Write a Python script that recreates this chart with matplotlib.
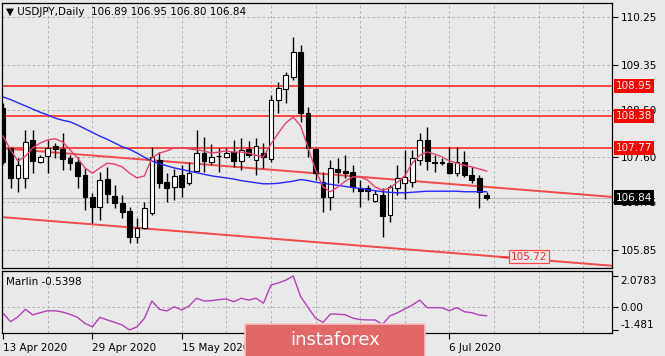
import numpy as np
import pandas as pd
import matplotlib
matplotlib.use("Agg")
import matplotlib.pyplot as plt
from matplotlib.patches import FancyBboxPatch
from matplotlib.transforms import blended_transform_factory

# USDJPY daily candles, one per weekday from 13 Apr 2020
opens = [108.53, 107.78, 107.21, 107.21, 107.93, 107.51, 107.62, 107.81, 107.76, 107.59,
         107.51, 107.27, 106.85, 106.66, 107.19, 106.87, 106.74, 106.59, 106.10, 106.27,
         106.55, 107.55, 107.13, 107.04, 107.27, 107.11, 107.34, 107.68, 107.51, 107.62,
         107.61, 107.70, 107.53, 107.76, 107.55, 107.68, 107.57, 108.68, 108.89, 109.12,
         109.59, 108.44, 107.76, 107.13, 106.85, 107.38, 107.34, 107.32, 107.02, 107.02,
         106.78, 106.89, 106.51, 107.02, 107.12, 107.13, 107.55, 107.93, 107.51, 107.51,
         107.49, 107.30, 107.51, 107.27, 107.21, 106.89]
highs = [108.62, 107.80, 107.59, 108.12, 108.12, 107.64, 107.93, 107.87, 108.06, 107.64,
         107.61, 107.40, 106.93, 107.32, 107.42, 107.08, 106.89, 106.66, 106.45, 106.76,
         107.79, 107.70, 107.30, 107.38, 107.46, 107.51, 108.12, 107.98, 107.85, 107.78,
         107.78, 107.93, 107.96, 107.91, 107.96, 107.87, 108.78, 109.02, 109.21, 109.87,
         109.72, 108.55, 107.78, 107.32, 107.55, 107.59, 107.64, 107.46, 107.17, 107.08,
         106.98, 107.02, 107.08, 107.46, 107.74, 107.74, 108.06, 108.17, 107.64, 107.59,
         107.79, 107.79, 107.72, 107.42, 107.27, 106.95]
lows = [107.48, 107.02, 106.95, 107.02, 107.30, 107.49, 107.30, 107.59, 107.36, 107.36,
        107.02, 106.61, 106.36, 106.42, 106.74, 106.64, 106.45, 105.98, 105.98, 106.25,
        106.51, 107.02, 106.76, 106.79, 106.85, 107.08, 107.32, 107.32, 107.46, 107.32,
        107.59, 107.42, 107.36, 107.61, 107.27, 107.40, 107.51, 108.44, 108.63, 109.06,
        108.27, 107.61, 107.17, 106.57, 106.61, 107.11, 107.21, 106.95, 106.66, 106.79,
        106.76, 106.10, 106.38, 106.89, 106.81, 107.04, 107.46, 107.36, 107.32, 107.46,
        107.28, 107.25, 107.23, 107.11, 106.64, 106.80]
closes = [107.51, 107.21, 107.46, 107.89, 107.53, 107.61, 107.78, 107.76, 107.57, 107.49,
          107.25, 106.85, 106.66, 107.17, 106.91, 106.74, 106.57, 106.10, 106.27, 106.64,
          107.61, 107.11, 107.02, 107.25, 107.04, 107.30, 107.68, 107.53, 107.61, 107.63,
          107.68, 107.53, 107.74, 107.64, 107.81, 107.61, 108.68, 108.91, 109.15, 109.59,
          108.44, 107.78, 107.30, 106.85, 107.40, 107.32, 107.30, 107.04, 106.96, 106.97,
          106.91, 106.49, 107.04, 107.21, 107.23, 107.59, 107.93, 107.53, 107.49, 107.50,
          107.30, 107.51, 107.27, 107.17, 106.95, 106.84]

# moving averages (red = fast, blue = slow)
ma_fast = [108.00, 107.74, 107.53, 107.62, 107.78, 107.87, 107.93, 107.95, 107.89, 107.74,
           107.59, 107.40, 107.30, 107.40, 107.49, 107.47, 107.42, 107.30, 107.21, 107.25,
           107.59, 107.68, 107.72, 107.78, 107.78, 107.76, 107.74, 107.72, 107.68, 107.70,
           107.72, 107.70, 107.70, 107.68, 107.64, 107.61, 107.85, 108.06, 108.25, 108.36,
           108.19, 107.78, 107.36, 107.04, 106.95, 107.04, 107.15, 107.23, 107.23, 107.17,
           107.04, 106.98, 107.02, 107.13, 107.25, 107.49, 107.64, 107.70, 107.66, 107.61,
           107.53, 107.49, 107.45, 107.42, 107.38, 107.34]
ma_slow = [108.74, 108.69, 108.63, 108.57, 108.51, 108.45, 108.40, 108.34, 108.30, 108.27,
           108.21, 108.14, 108.07, 108.00, 107.94, 107.87, 107.80, 107.75, 107.68, 107.60,
           107.53, 107.48, 107.44, 107.40, 107.37, 107.34, 107.31, 107.28, 107.25, 107.23,
           107.21, 107.19, 107.16, 107.14, 107.12, 107.10, 107.10, 107.11, 107.13, 107.15,
           107.18, 107.16, 107.13, 107.11, 107.09, 107.07, 107.05, 107.03, 107.01, 106.99,
           106.97, 106.95, 106.94, 106.93, 106.93, 106.94, 106.95, 106.96, 106.96, 106.96,
           106.96, 106.96, 106.95, 106.95, 106.95, 106.95]

# Marlin oscillator
marlin = [-0.38, -0.94, -0.61, -0.12, -0.49, -0.34, -0.21, -0.22, -0.30, -0.45,
          -0.65, -1.05, -1.27, -0.65, -0.82, -0.98, -1.15, -1.48, -1.27, -0.71,
          0.43, -0.12, -0.23, 0.05, -0.16, 0.10, 0.61, 0.43, 0.45, 0.52,
          0.56, 0.38, 0.61, 0.49, 0.61, 0.28, 1.48, 1.62, 1.80, 2.08,
          0.71, 0.00, -0.71, -0.98, -0.43, -0.44, -0.48, -0.70, -0.80, -0.82,
          -0.82, -1.11, -0.55, -0.35, -0.10, 0.16, 0.49, -0.01, -0.01, -0.02,
          -0.21, -0.01, -0.28, -0.34, -0.50, -0.54]
marlin_last = -0.5398
marlin_ticks = [2.0783, 0.0, -1.481]
marlin_labels = ["2.0783", "0.00", "-1.481"]

# levels and channel
levels = [108.95, 108.38, 107.77]
channel_bars = [-1, 83]
channel_upper = [107.78, 106.84]
channel_lower = [106.48, 105.54]
target = 105.72
price_ticks = [110.25, 109.35, 108.50, 107.60, 106.75, 105.85]

dates = pd.bdate_range("2020-04-13", periods=len(opens))
date_idx = [0, 12, 24, 36, 48, 60]
hidden_dates = [36, 48]  # covered by the watermark in the original

BG = "#e9e9e9"
GRID = "#a6a6a6"
FS = 7.5
W, H = 665, 356


def box(l, t, r, b):
    return [l / W, 1 - b / H, (r - l) / W, (b - t) / H]


fig = plt.figure(figsize=(W / 100, H / 100), dpi=100, facecolor=BG)
ax = fig.add_axes(box(2, 3, 612, 268), facecolor=BG)
axm = fig.add_axes(box(2, 271, 612, 333), facecolor=BG, sharex=ax)

x = np.arange(len(opens))
o, hi, lo, c = (np.array(v) for v in (opens, highs, lows, closes))

# grid
for a in (ax, axm):
    for gx in range(6, 84, 6):
        a.axvline(gx, color=GRID, lw=0.6, dashes=(3, 3), zorder=0)
    for s in a.spines.values():
        s.set_color("black")
        s.set_linewidth(0.9)
for p in price_ticks:
    ax.axhline(p, color=GRID, lw=0.6, dashes=(3, 3), zorder=0)
axm.axhline(0, color=GRID, lw=0.6, dashes=(3, 3), zorder=0)

# levels, channel, bid line
for lv in levels:
    ax.axhline(lv, color="#ff1a1a", lw=1.1, zorder=2)
ax.plot(channel_bars, channel_upper, color="#f04a4a", lw=1.4, zorder=2)
ax.plot(channel_bars, channel_lower, color="#f04a4a", lw=1.4, zorder=2)
ax.axhline(closes[-1], color="#bcbcbc", lw=0.8, zorder=1)

# candles
ax.vlines(x, lo, hi, color="black", lw=1, zorder=3)
body_h = np.maximum(np.abs(c - o), 0.012)
ax.bar(x, body_h, bottom=np.minimum(o, c), width=0.64,
       color=np.where(c >= o, "white", "black"), edgecolor="black", lw=0.8, zorder=4)

# moving averages
ax.plot(x, ma_slow, color="#2424ff", lw=1, zorder=5)
ax.plot(x, ma_fast, color="#e8406a", lw=1, zorder=5)

ax.set_xlim(-0.15, 81.85)
ax.set_ylim(105.51, 110.514)
ax.tick_params(axis="x", length=0, labelbottom=False)
ax.yaxis.tick_right()
ax.set_yticks(price_ticks)
ax.set_yticklabels([f"{p:.2f}" for p in price_ticks])
ax.tick_params(axis="y", length=4, width=0.8, pad=2, labelsize=FS, colors="black")

# price boxes on right axis
trans = blended_transform_factory(ax.transAxes, ax.transData)
for lv in levels:
    ax.text(1.006, lv, f"{lv:.2f}", transform=trans, color="white", fontsize=FS,
            va="center", ha="left", clip_on=False, zorder=10,
            bbox=dict(boxstyle="square,pad=0.2", fc="#ff0000", ec="none"))
ax.text(1.006, closes[-1], f"{closes[-1]:.2f}", transform=trans, color="white",
        fontsize=FS, va="center", ha="left", clip_on=False, zorder=10,
        bbox=dict(boxstyle="square,pad=0.2", fc="black", ec="none"))

# target label on the lower channel line
tx = np.interp(target, channel_lower[::-1], channel_bars[::-1])
ax.plot([tx, tx + 1.1], [target, target], color="#ff2a2a", lw=1, zorder=6)
ax.text(tx + 1.3, target, f"{target:.2f}", color="#ff2a2a", fontsize=FS,
        va="center", ha="left", zorder=7,
        bbox=dict(boxstyle="square,pad=0.15", fc=BG, ec="#ff4a4a", lw=0.9))

# title
fig.text(6 / W, 1 - 12 / H,
         f"\u25bc USDJPY,Daily  {opens[-1]:.2f} {highs[-1]:.2f} {lows[-1]:.2f} {closes[-1]:.2f}",
         fontsize=FS, va="center", ha="left", color="black")

# Marlin panel
axm.plot(x, marlin, color="#b040b8", lw=1, zorder=3)
axm.set_ylim(-1.681, 2.406)
axm.yaxis.tick_right()
axm.set_yticks(marlin_ticks)
axm.set_yticklabels(marlin_labels)
axm.tick_params(axis="y", length=4, width=0.8, pad=2, labelsize=FS)
tl = axm.get_yticklabels()
tl[0].set_va("top")
tl[-1].set_va("bottom")
axm.text(0.007, 0.83, f"Marlin {marlin_last:.4f}", transform=axm.transAxes,
         fontsize=FS, va="center", ha="left")

axm.set_xticks(date_idx)
axm.set_xticklabels(["" if i in hidden_dates else
                     f"{dates[i].day} {dates[i].strftime('%b %Y')}" for i in date_idx],
                    ha="left")
axm.tick_params(axis="x", length=4, width=0.8, pad=3, labelsize=FS)

# watermark logo
logo = FancyBboxPatch((245 / W, -0.01), 180 / W, 32 / H + 0.01,
                      boxstyle="square,pad=0", transform=fig.transFigure,
                      fc="#e26868", ec="#f6c4c4", lw=1.2, zorder=20)
fig.add_artist(logo)
fig.text(335 / W, 1 - 340 / H, "instaforex", color="white", fontsize=13,
         ha="center", va="center", zorder=21)

fig.savefig("out.png", dpi=100, facecolor=BG)
